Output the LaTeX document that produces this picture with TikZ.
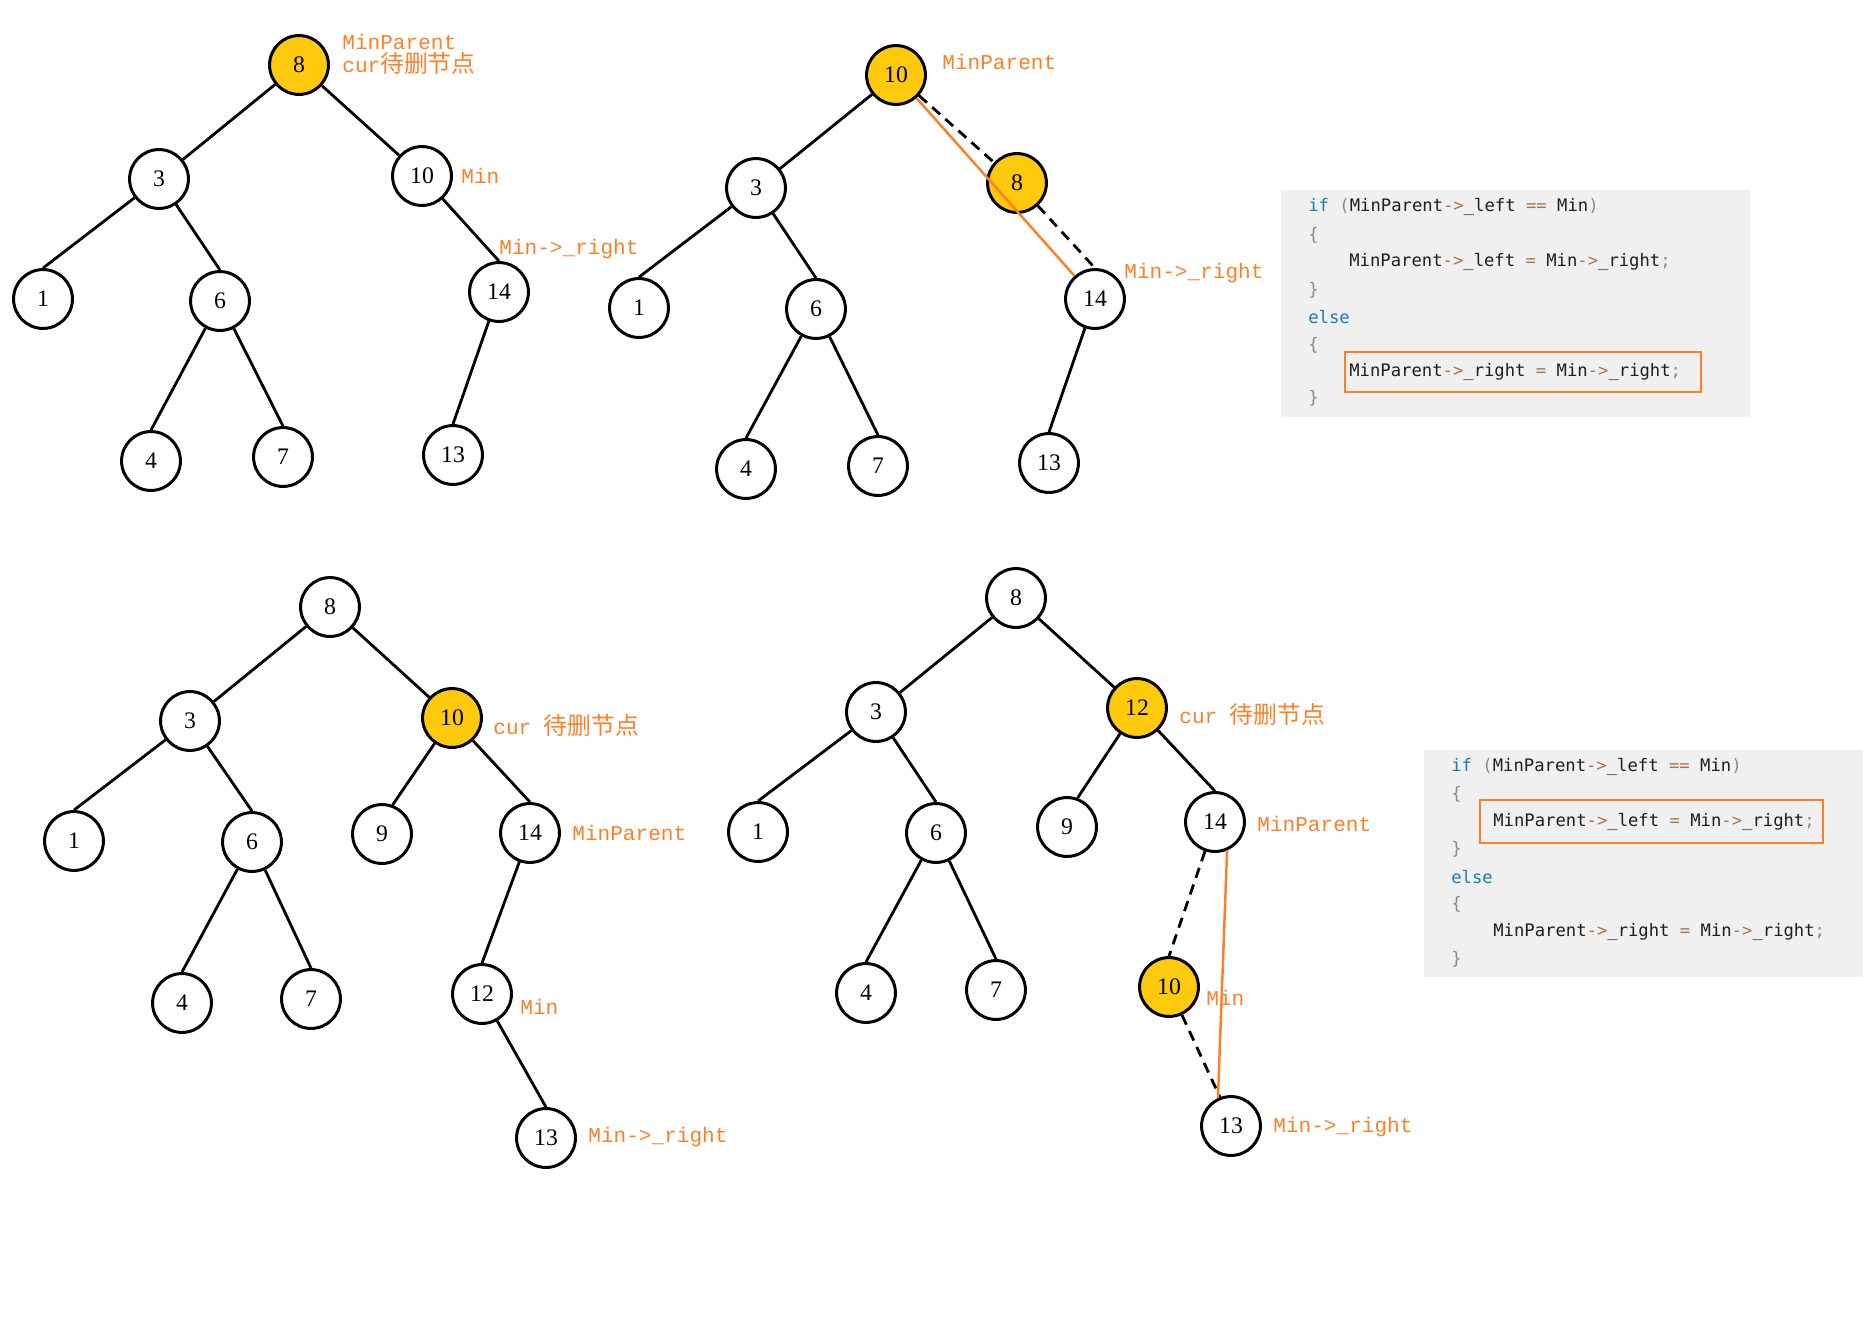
\documentclass[tikz,border=0pt]{standalone}
\usepackage{fontspec}
\setmainfont{Liberation Serif}
\newfontfamily\labelfont{Liberation Mono}
\newfontfamily\cjk[Scale=1.13]{Noto Sans CJK SC}
\newfontfamily\codefont{DejaVu Sans Mono}
\definecolor{nodeyellow}{HTML}{FFC90E}
\definecolor{markorange}{HTML}{FF7F27}
\definecolor{codebg}{HTML}{F0F0F0}
\definecolor{codekw}{HTML}{1C7CB4}
\definecolor{codeop}{HTML}{A8764A}
\definecolor{codegray}{HTML}{8A8A8A}
\definecolor{codetext}{HTML}{1E1E1E}
\newcommand{\kw}[1]{\textcolor{codekw}{#1}}
\newcommand{\op}[1]{\textcolor{codeop}{#1}}
\newcommand{\pn}[1]{\textcolor{codegray}{#1}}
\newcommand{\curtext}{cur}
\tikzset{
  treenode/.style={circle, draw=black, line width=1.7pt, fill=white, minimum size=33.5pt, inner sep=0pt, font=\fontsize{13.5}{16}\selectfont},
  hotnode/.style={treenode, fill=nodeyellow},
  edge/.style={line width=1.6pt},
  oldedge/.style={line width=1.6pt, dash pattern=on 6pt off 4pt},
  newedge/.style={line width=1.4pt, draw=markorange},
  lbl/.style={anchor=west, inner sep=0pt, text=markorange, font=\labelfont\fontsize{12}{13}\selectfont},
  codeline/.style={anchor=west, inner sep=0pt, text=codetext, font=\codefont\fontsize{9.8}{11}\selectfont},
  codebox/.style={draw=markorange, line width=1.4pt}
}

\begin{document}
\begin{tikzpicture}[x=0.02cm, y=-0.02cm]
\useasboundingbox (0,0) rectangle (1863,1322);

% tree 1
\node[hotnode] (a8) at (299,65) {8};
\node[treenode] (a3) at (159,179) {3};
\node[treenode] (a10) at (422,176) {10};
\node[treenode] (a1) at (43,299) {1};
\node[treenode] (a6) at (220,301) {6};
\node[treenode] (a14) at (499,292) {14};
\node[treenode] (a4) at (151,461) {4};
\node[treenode] (a7) at (283,457) {7};
\node[treenode] (a13) at (453,455) {13};
\draw[edge] (a8) -- (a3); \draw[edge] (a8) -- (a10);
\draw[edge] (a3) -- (a1.north); \draw[edge] (a3) -- (a6.north);
\draw[edge] (a10) -- (a14.north);
\draw[edge] (a6) -- (a4.north); \draw[edge] (a6) -- (a7.north);
\draw[edge] (a14) -- (a13.north);
\node[lbl, align=left] (aLbl) at (342,54) {MinParent\\\curtext{\cjk 待删节点}};
\node[lbl] (aMin) at (461,176) {Min};
\node[lbl] (aRight) at (499,249) {Min->\_right};

% tree 2
\node[hotnode] (b10) at (896,75) {10};
\node[treenode] (b3) at (756,188) {3};
\node[hotnode] (b8) at (1017,183) {8};
\node[treenode] (b1) at (639,308) {1};
\node[treenode] (b6) at (816,309) {6};
\node[treenode] (b14) at (1095,299) {14};
\node[treenode] (b4) at (746,469) {4};
\node[treenode] (b7) at (878,466) {7};
\node[treenode] (b13) at (1049,463) {13};
\draw[edge] (b10) -- (b3);
\draw[oldedge] (b10) -- (b8); \draw[oldedge] (b8) -- (b14.north);
\draw[edge] (b3) -- (b1.north); \draw[edge] (b3) -- (b6.north);
\draw[edge] (b6) -- (b4.north); \draw[edge] (b6) -- (b7.north);
\draw[edge] (b14) -- (b13.north);
\draw[newedge] (b10) -- (b14);
\node[lbl] (bParent) at (942,62) {MinParent};
\node[lbl] (bRight) at (1124,273) {Min->\_right};

% code 1
\fill[codebg] (1281,190) rectangle (1750,417);
\node[codeline] (p1) at (1308,207) {\kw{if} \pn{(}MinParent\op{->}\_left \op{==} Min\pn{)}};
\node[codeline] (p2) at (1308,235) {\pn{\{}};
\node[codeline] (p3) at (1349,262) {MinParent\op{->}\_left \op{=} Min\op{->}\_right\pn{;}};
\node[codeline] (p4) at (1308,290) {\pn{\}}};
\node[codeline] (p5) at (1308,317) {\kw{else}};
\node[codeline] (p6) at (1308,345) {\pn{\{}};
\node[codeline] (p7) at (1349,372) {MinParent\op{->}\_right \op{=} Min\op{->}\_right\pn{;}};
\node[codeline] (p8) at (1308,398) {\pn{\}}};
\draw[codebox] (1345,352) rectangle (1701,392);

% tree 3
\node[treenode] (c8) at (330,607) {8};
\node[treenode] (c3) at (190,721) {3};
\node[hotnode] (c10) at (452,718) {10};
\node[treenode] (c1) at (74,841) {1};
\node[treenode] (c6) at (252,842) {6};
\node[treenode] (c9) at (382,834) {9};
\node[treenode] (c14) at (530,833) {14};
\node[treenode] (c4) at (182,1003) {4};
\node[treenode] (c7) at (311,999) {7};
\node[treenode] (c12) at (482,994) {12};
\node[treenode] (c13) at (546,1138) {13};
\draw[edge] (c8) -- (c3); \draw[edge] (c8) -- (c10);
\draw[edge] (c3) -- (c1.north); \draw[edge] (c3) -- (c6.north);
\draw[edge] (c10) -- (c9.70); \draw[edge] (c10) -- (c14.north);
\draw[edge] (c6) -- (c4.north); \draw[edge] (c6) -- (c7.north);
\draw[edge] (c14) -- (c12.north); \draw[edge] (c12) -- (c13.north);
\node[lbl] (cCur) at (493,725) {\curtext{} {\cjk 待删节点}};
\node[lbl] (cParent) at (572,833) {MinParent};
\node[lbl] (cMin) at (520,1007) {Min};
\node[lbl] (cRight) at (588,1137) {Min->\_right};

% tree 4
\node[treenode] (d8) at (1016,598) {8};
\node[treenode] (d3) at (876,712) {3};
\node[hotnode] (d12) at (1137,708) {12};
\node[treenode] (d1) at (758,832) {1};
\node[treenode] (d6) at (936,833) {6};
\node[treenode] (d9) at (1067,827) {9};
\node[treenode] (d14) at (1215,822) {14};
\node[treenode] (d4) at (866,993) {4};
\node[treenode] (d7) at (996,990) {7};
\node[hotnode] (d10) at (1169,987) {10};
\node[treenode] (d13) at (1231,1126) {13};
\draw[edge] (d8) -- (d3); \draw[edge] (d8) -- (d12);
\draw[edge] (d3) -- (d1.north); \draw[edge] (d3) -- (d6.north);
\draw[edge] (d12) -- (d9.70); \draw[edge] (d12) -- (d14.north);
\draw[edge] (d6) -- (d4.north); \draw[edge] (d6) -- (d7.north);
\draw[oldedge] (d14) -- (d10.north); \draw[oldedge] (d10) -- (d13.111);
\draw[newedge] (d14.-67) -- (d13.115);
\node[lbl] (dCur) at (1179,714) {\curtext{} {\cjk 待删节点}};
\node[lbl] (dParent) at (1257,824) {MinParent};
\node[lbl] (dMin) at (1206,998) {Min};
\node[lbl] (dRight) at (1273,1127) {Min->\_right};

% code 2
\fill[codebg] (1424,750) rectangle (1863,977);
\node[codeline] (q1) at (1451,767) {\kw{if} \pn{(}MinParent\op{->}\_left \op{==} Min\pn{)}};
\node[codeline] (q2) at (1451,794) {\pn{\{}};
\node[codeline] (q3) at (1493,822) {MinParent\op{->}\_left \op{=} Min\op{->}\_right\pn{;}};
\node[codeline] (q4) at (1451,849) {\pn{\}}};
\node[codeline] (q5) at (1451,877) {\kw{else}};
\node[codeline] (q6) at (1451,904) {\pn{\{}};
\node[codeline] (q7) at (1493,932) {MinParent\op{->}\_right \op{=} Min\op{->}\_right\pn{;}};
\node[codeline] (q8) at (1451,959) {\pn{\}}};
\draw[codebox] (1480,800) rectangle (1823,843);

\end{tikzpicture}
\end{document}
